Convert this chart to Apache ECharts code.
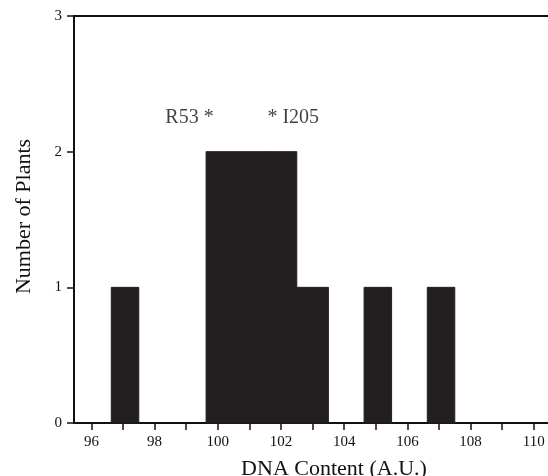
<!DOCTYPE html>
<html>
<head>
<meta charset="utf-8">
<script src="https://cdn.jsdelivr.net/npm/echarts@6/dist/echarts.min.js"></script>
<style>
  html, body { margin: 0; padding: 0; background: #fff; }
</style>
</head>
<body>
<div id="main" style="width:548px;height:476px;"></div>
<script>
// histogram bins (DNA content, A.U.) and plant counts
var binCenters = [97, 100, 101, 102, 103, 105, 107];
var plantCounts = [1, 2, 2, 2, 1, 1, 1];
// axis ticks
var xTicks = [96, 97, 98, 99, 100, 101, 102, 103, 104, 105, 106, 107, 108, 109, 110];
var xLabels = [96, 98, 100, 102, 104, 106, 108, 110];
// labelled plants above the peak
var noteNames = ['R53 *', '* I205'];
var noteX = [99.87, 101.57];
var noteY = [2.25, 2.25];

var serif = 'Liberation Serif';
var ink = '#231f20';
var txt = '#111';

var chart = echarts.init(document.getElementById('main'));

var bins = binCenters.map(function (c, i) { return [c, plantCounts[i]]; });
var notes = noteNames.map(function (n, i) {
    return {
        name: n,
        value: [noteX[i], noteY[i]],
        label: { position: i === 0 ? 'left' : 'right' }
    };
});

chart.setOption({
    animation: false,
    grid: { left: 74, top: 16, right: 0, bottom: 53, outerBoundsMode: 'none', containLabel: false },
    xAxis: [
        {
            type: 'value',
            min: 95.45,
            max: 110.45,
            splitLine: { show: false },
            axisLine: { lineStyle: { color: '#111', width: 2 } },
            axisTick: { customValues: xTicks, length: 7, lineStyle: { color: '#111', width: 1.5 } },
            axisLabel: { customValues: xLabels, margin: 12, fontFamily: serif, fontSize: 15, color: txt },
            name: 'DNA Content (A.U.)',
            nameLocation: 'middle',
            nameGap: 35,
            nameTextStyle: { fontFamily: serif, fontSize: 22, color: txt, padding: [0, 0, 0, 46] }
        },
        {
            type: 'value',
            position: 'top',
            min: 95.45,
            max: 110.45,
            splitLine: { show: false },
            axisLine: { lineStyle: { color: '#111', width: 2 } },
            axisTick: { show: false },
            axisLabel: { show: false }
        }
    ],
    yAxis: {
        type: 'value',
        min: 0,
        max: 3,
        interval: 1,
        splitLine: { show: false },
        axisLine: { show: true, lineStyle: { color: '#111', width: 2 } },
        axisTick: { show: true, length: 7, lineStyle: { color: '#111', width: 1.5 } },
        axisLabel: { margin: 12, fontFamily: serif, fontSize: 15, color: txt },
        name: 'Number of Plants',
        nameLocation: 'middle',
        nameGap: 39,
        nameTextStyle: { fontFamily: serif, fontSize: 22, color: txt, padding: [0, 0, 0, 6] }
    },
    series: [
        {
            type: 'custom',
            data: bins,
            renderItem: function (params, api) {
                var x = api.value(0), y = api.value(1);
                // bars joined to a neighbouring bin start at the bin edge
                var left = binCenters.indexOf(x - 1) >= 0 ? x - 0.5 : x - 0.37;
                var tl = api.coord([left, y]);
                var br = api.coord([x + 0.5, 0]);
                return {
                    type: 'rect',
                    shape: { x: tl[0], y: tl[1], width: br[0] - tl[0], height: br[1] - tl[1] },
                    style: { fill: ink, stroke: ink, lineWidth: 1 }
                };
            }
        },
        {
            type: 'scatter',
            symbolSize: 0,
            data: notes,
            label: {
                show: true,
                distance: 0,
                formatter: '{b}',
                fontFamily: serif,
                fontSize: 20,
                color: txt
            }
        }
    ]
});
</script>
</body>
</html>
